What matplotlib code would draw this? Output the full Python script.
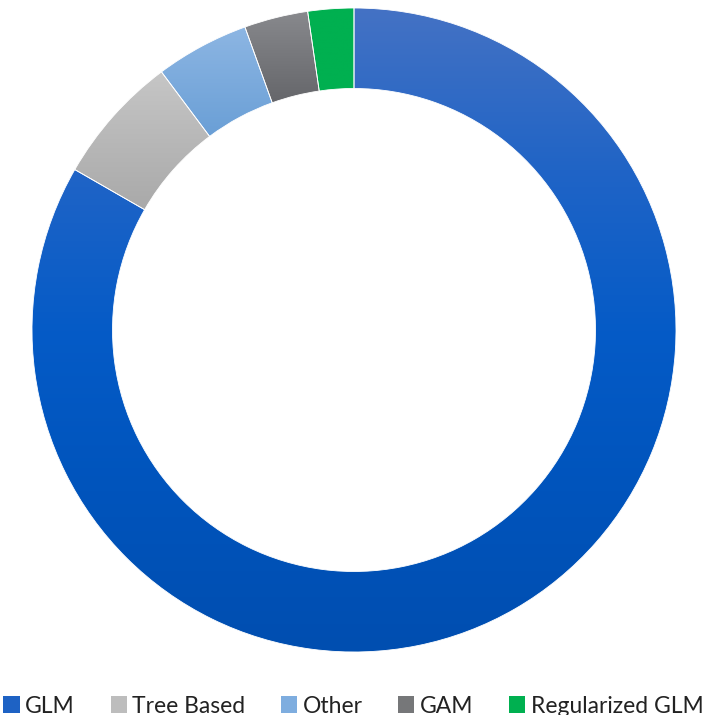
import numpy as np
import matplotlib.pyplot as plt
from matplotlib.patches import Patch
from matplotlib.colors import LinearSegmentedColormap

# share of models by type (%)
labels = ['GLM', 'Tree Based', 'Other', 'GAM', 'Regularized GLM']
shares = [83.3, 6.5, 4.7, 3.2, 2.3]
# gradient colours, top to bottom, for each slice
slice_colors = [
    ['#4472C4', '#2064C6', '#055BC7', '#0054BC', '#004EB0'],
    ['#C6C6C6', '#A9A9A9'],
    ['#8DB6E3', '#6A9FD6'],
    ['#88898D', '#65666A'],
    ['#00B050', '#00B050'],
]
legend_colors = ['#1E62C4', '#BDBDBD', '#7EADDF', '#767779', '#00B050']

plt.rcParams['font.family'] = ['Lato', 'DejaVu Sans']

fig = plt.figure(figsize=(7.07, 7.15), dpi=100)
ax = fig.add_axes([32 / 707, 63 / 715, 644 / 707, 644 / 715])

wedges, _ = ax.pie(shares, startangle=90, counterclock=False, radius=1,
                   wedgeprops=dict(width=0.25, edgecolor='white', linewidth=0.6))

# fill each slice with a vertical gradient clipped to its shape
grad = np.linspace(0, 1, 256).reshape(-1, 1)
for w, cols in zip(wedges, slice_colors):
    cmap = LinearSegmentedColormap.from_list('g', cols[::-1])
    bb = w.get_path().get_extents()
    im = ax.imshow(grad, cmap=cmap, origin='lower', aspect='auto',
                   extent=[bb.x0, bb.x1, bb.y0, bb.y1], zorder=w.get_zorder())
    im.set_clip_path(w)
    w.set_facecolor('none')
    w.set_zorder(w.get_zorder() + 1)

ax.set_xlim(-1, 1)
ax.set_ylim(-1, 1)
ax.set_aspect('equal')
ax.axis('off')

handles = [Patch(facecolor=c, edgecolor='none') for c in legend_colors]
fig.legend(handles, labels, loc='lower center', bbox_to_anchor=(0.5, -0.031),
           ncol=5, frameon=False, fontsize=16.5, handlelength=0.7, handleheight=0.8,
           handletextpad=0.25, columnspacing=1.55, labelcolor='#222222')

fig.savefig('out.png', dpi=100)
